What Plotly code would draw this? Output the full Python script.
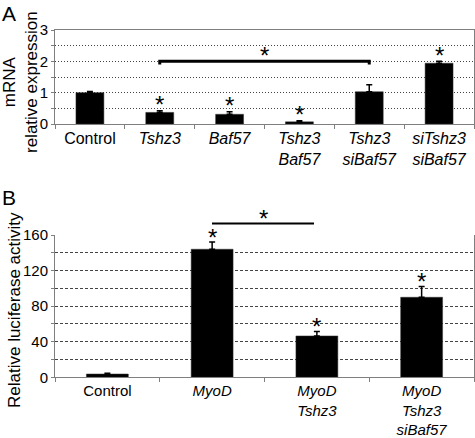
import plotly.graph_objects as go

FONT = "Liberation Sans, Arial, Helvetica, sans-serif"

# Panel A data
cats_a = ["Control", "<i>Tshz3</i>", "<i>Baf57</i>", "<i>Tshz3<br>Baf57</i>",
          "<i>Tshz3<br>siBaf57</i>", "<i>siTshz3<br>siBaf57</i>"]
vals_a = [1.0, 0.37, 0.31, 0.07, 1.03, 1.94]
err_a = [0.04, 0.05, 0.08, 0.03, 0.22, 0.06]
star_a = [False, True, True, True, False, True]

# Panel B data
cats_b = ["Control", "<i>MyoD</i>", "<i>MyoD<br>Tshz3</i>", "<i>MyoD<br>Tshz3<br>siBaf57</i>"]
vals_b = [3.7, 144, 46.5, 90]
err_b = [0.8, 8, 5, 12]
star_b = [False, True, True, True]

W, H = 475, 438
xdom = [55 / W, 474 / W]
ydom_a = [(H - 124) / H, (H - 30) / H]
ydom_b = [(H - 377.3) / H, (H - 235) / H]

fig = go.Figure()
fig.add_trace(go.Bar(
    x=cats_a, y=vals_a, xaxis="x", yaxis="y", width=0.4,
    marker=dict(color="black", line=dict(color="#333", width=0.5)),
    error_y=dict(type="data", array=err_a, arrayminus=[0] * len(err_a),
                 symmetric=False, color="black", thickness=1.5, width=3),
    showlegend=False, hoverinfo="skip"))
fig.add_trace(go.Bar(
    x=cats_b, y=vals_b, xaxis="x2", yaxis="y2", width=0.4,
    marker=dict(color="black", line=dict(color="#333", width=0.5)),
    error_y=dict(type="data", array=err_b, arrayminus=[0] * len(err_b),
                 symmetric=False, color="black", thickness=1.5, width=3),
    showlegend=False, hoverinfo="skip"))

axis_common = dict(showline=True, linecolor="#7f7f7f", linewidth=1,
                   zeroline=False, fixedrange=True, automargin=False)
xfont = dict(family=FONT, size=16, color="black")
yfont = dict(family=FONT, size=15, color="black")

fig.update_layout(
    width=W, height=H, margin=dict(l=0, r=0, t=0, b=0, autoexpand=False),
    paper_bgcolor="white", plot_bgcolor="white", bargap=0.6,
    font=dict(family=FONT, color="black"),
    xaxis=dict(domain=xdom, anchor="y", type="category", tickson="boundaries",
               ticks="outside", ticklen=4, tickcolor="#7f7f7f", mirror=True,
               showgrid=False, range=[-0.5, 5.5], tickfont=xfont, **axis_common),
    yaxis=dict(domain=ydom_a, anchor="x", range=[0, 3], dtick=1, tick0=0,
               ticks="outside", ticklen=3, tickcolor="#7f7f7f", mirror=True,
               showgrid=True, gridcolor="#444", griddash="1px,2px", gridwidth=1,
               minor=dict(dtick=0.5, showgrid=True, gridcolor="#444", griddash="1px,2px",
                          ticks="outside", ticklen=3, tickcolor="#7f7f7f"),
               tickfont=yfont, **axis_common),
    xaxis2=dict(domain=xdom, anchor="y2", type="category", tickson="boundaries",
                ticks="outside", ticklen=4, tickcolor="#7f7f7f", mirror=False,
                showgrid=False, range=[-0.5, 3.5],
                tickfont=dict(family=FONT, size=15, color="black"), **axis_common),
    yaxis2=dict(domain=ydom_b, anchor="x2", range=[0, 160], dtick=40, tick0=0,
                ticks="outside", ticklen=3, tickcolor="#7f7f7f", mirror=True,
                showgrid=True, gridcolor="#444", griddash="3px,2px", gridwidth=1,
                minor=dict(dtick=20, showgrid=True, gridcolor="#444", griddash="3px,2px",
                           ticks="outside", ticklen=3, tickcolor="#7f7f7f"),
                tickfont=yfont, **axis_common),
)

annotations = []
# stars above bars
for c, v, e, s in zip(cats_a, vals_a, err_a, star_a):
    if s:
        annotations.append(dict(x=c, y=v + e, xref="x", yref="y", text="*",
                                showarrow=False, yanchor="middle", yshift=6,
                                font=dict(family=FONT, size=24, color="black")))
for c, v, e, s in zip(cats_b, vals_b, err_b, star_b):
    if s:
        annotations.append(dict(x=c, y=v + e, xref="x2", yref="y2", text="*",
                                showarrow=False, yanchor="middle", yshift=5,
                                font=dict(family=FONT, size=24, color="black")))

# bracket A (Tshz3 vs Tshz3 siBaf57)
fig.add_shape(type="path", xref="x", yref="y",
              path="M 1,1.9 L 1,2.0 L 4,2.0 L 4,1.9",
              line=dict(color="black", width=3))
annotations.append(dict(x=2.5, y=2.0, xref="x", yref="y", text="*", showarrow=False,
                        yanchor="middle", yshift=6,
                        font=dict(family=FONT, size=24, color="black")))

# bracket B (MyoD vs MyoD Tshz3), above plot area -> domain refs
yb = (173 / 160)
fig.add_shape(type="line", xref="x2 domain", yref="y2 domain",
              x0=(212 - 55) / 419, x1=(314 - 55) / 419, y0=yb, y1=yb,
              line=dict(color="black", width=2))
annotations.append(dict(x=(263 - 55) / 419, y=yb, xref="x2 domain", yref="y2 domain",
                        text="*", showarrow=False, yanchor="middle", yshift=5,
                        font=dict(family=FONT, size=24, color="black")))

# axis titles
annotations.append(dict(x=20 / W, y=(H - 82) / H, xref="paper", yref="paper",
                        text="mRNA<br>relative expression", textangle=-90,
                        showarrow=False, xanchor="center", yanchor="middle",
                        font=dict(family=FONT, size=17, color="black")))
annotations.append(dict(x=14 / W, y=(H - 310) / H, xref="paper", yref="paper",
                        text="Relative luciferase activity", textangle=-90,
                        showarrow=False, xanchor="center", yanchor="middle",
                        font=dict(family=FONT, size=17, color="black")))
# panel letters
annotations.append(dict(x=0, y=1.0, xref="paper", yref="paper", text="A",
                        showarrow=False, xanchor="left", yanchor="top",
                        font=dict(family=FONT, size=21, color="black")))
annotations.append(dict(x=0, y=(H - 184) / H, xref="paper", yref="paper", text="B",
                        showarrow=False, xanchor="left", yanchor="top",
                        font=dict(family=FONT, size=21, color="black")))

fig.update_layout(annotations=annotations)
fig.write_html("out.html", config={"displayModeBar": False, "staticPlot": True},
               post_script="document.body.style.margin='0';document.body.style.overflow='hidden';")
